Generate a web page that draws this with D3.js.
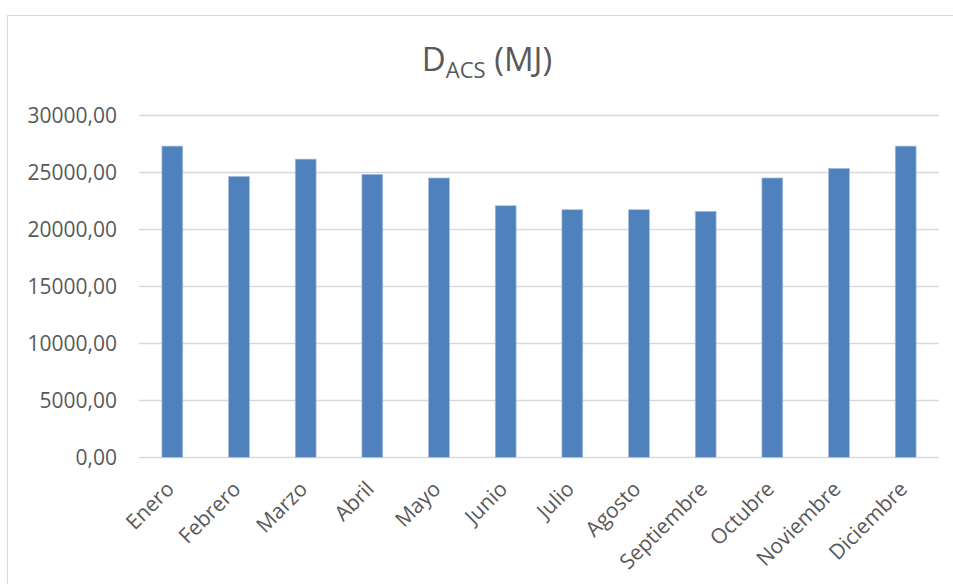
<!DOCTYPE html>
<html><head><meta charset="utf-8">
<script src="https://cdn.jsdelivr.net/npm/d3@7"></script>
<style>body{margin:0;background:#fff}svg{display:block}</style>
</head><body>
<svg id="c" width="953" height="584"></svg>
<script>
const months = ["Enero","Febrero","Marzo","Abril","Mayo","Junio","Julio","Agosto","Septiembre","Octubre","Noviembre","Diciembre"];
const values = [27250, 24600, 26110, 24780, 24460, 22030, 21680, 21680, 21540, 24460, 25300, 27250];
const yTicks = [0, 5000, 10000, 15000, 20000, 25000, 30000];

const svg = d3.select("#c");
const font = "'Open Sans', sans-serif";
svg.append("rect").attr("x",7.5).attr("y",15.5).attr("width",960).attr("height",600)
  .attr("fill","#fff").attr("stroke","#D9D9D9").attr("stroke-width",1);

const x = d3.scaleBand().domain(months).range([139, 939]).paddingInner(0.687).paddingOuter(0.3435);
const y = d3.scaleLinear().domain([0, 30000]).range([457.3, 114.7]);

// gridlines
svg.append("g").selectAll("line").data(yTicks).join("line")
  .attr("x1",139).attr("x2",939).attr("y1",d=>Math.round(y(d))+0.5).attr("y2",d=>Math.round(y(d))+0.5)
  .attr("stroke","#D9D9D9").attr("stroke-width",1.3);

// y axis labels
const fmt = d => d3.format(".2f")(d).replace(".", ",");
const ya = svg.append("g").attr("transform","translate(117,0)").call(d3.axisLeft(y).tickValues(yTicks).tickFormat(fmt).tickSize(0).tickPadding(0));
ya.select(".domain").remove();
ya.selectAll("text").attr("font-family",font).attr("font-size",21).attr("fill","#595959").attr("dy","0.36em");

// bars
svg.append("g").selectAll("rect").data(values).join("rect")
  .attr("x",(d,i)=>x(months[i])).attr("width",x.bandwidth())
  .attr("y",d=>y(d)).attr("height",d=>y(0)-y(d))
  .attr("fill","#4F81BD").attr("stroke","#A9C1E0").attr("stroke-width",0.7);

// x axis labels
const xa = svg.append("g").attr("transform","translate(0,457.3)").call(d3.axisBottom(x).tickSize(0).tickPadding(0));
xa.select(".domain").remove();
xa.selectAll("text").attr("font-family",font).attr("font-size",21).attr("fill","#595959")
  .attr("text-anchor","end").attr("dy",0)
  .attr("transform","translate(3,33) rotate(-45)");

// title
const t = svg.append("text").attr("x",487).attr("y",71).attr("text-anchor","middle")
  .attr("font-family",font).attr("font-size",33).attr("fill","#595959");
t.append("tspan").text("D");
t.append("tspan").attr("font-size",22).attr("dy",7).text("ACS");
t.append("tspan").attr("dy",-7).text(" (MJ)");
</script>
</body></html>
